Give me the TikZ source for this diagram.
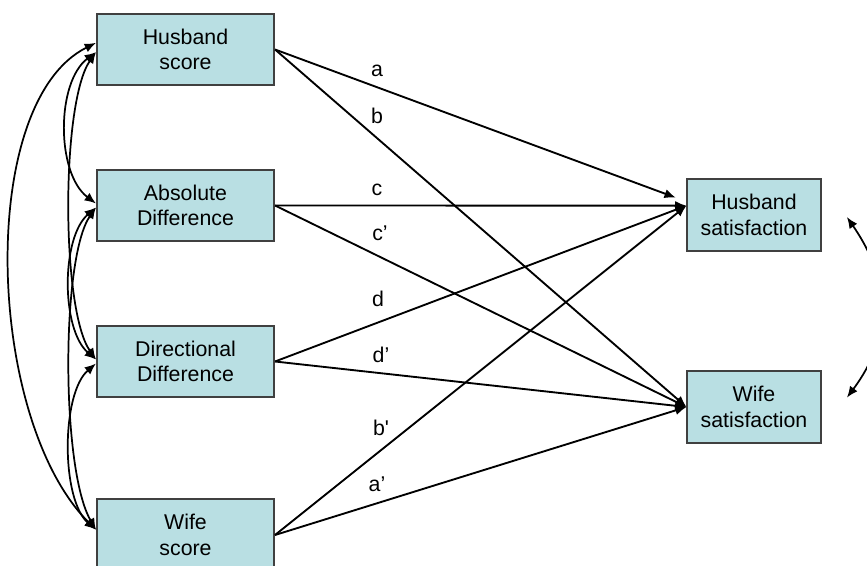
\documentclass[tikz,border=0pt]{standalone}
\usepackage{fontspec}
\setmainfont{Liberation Sans}[Ligatures=TeXOff]
\usepackage{tikz}
\usetikzlibrary{arrows.meta}

\begin{document}
\begin{tikzpicture}[x=0.75pt,y=0.75pt,yscale=-1,xscale=1,
	>={Latex[length=8.5pt,width=7pt]},
	varbox/.style={draw={rgb, 255:red, 64; green, 64; blue, 64}, line width=1.3pt, fill={rgb, 255:red, 185; green, 223; blue, 227}, minimum height=53.5pt, align=center, inner sep=0pt, font=\fontsize{16}{19}\selectfont},
	leftbox/.style={varbox, minimum width=133pt},
	rightbox/.style={varbox, minimum width=100pt},
	link/.style={->, line width=1.4pt},
	covar/.style={<->, line width=1.3pt},
	plab/.style={anchor=base, inner sep=0pt, font=\fontsize{16}{19}\selectfont}]
	\clip (0,0) rectangle (867,566);

	%Shape: Rectangle [id:predictors]
	\node [leftbox] (hscore) at (185.5,49.5) {Husband\\score};
	\node [leftbox] (absdiff) at (185.5,205.5) {Absolute\\Difference};
	\node [leftbox] (dirdiff) at (185.5,361.5) {Directional\\Difference};
	\node [leftbox] (wscore) at (185.5,535) {Wife\\score};
	%Shape: Rectangle [id:outcomes]
	\node [rightbox] (hsat) at (754,215) {Husband\\satisfaction};
	\node [rightbox] (wsat) at (754,407) {Wife\\satisfaction};
	\coordinate (hsatr) at ([xshift=19pt,yshift=1.5pt]hsat.east);
	\coordinate (wsatr) at ([xshift=19pt,yshift=-7pt]wsat.east);

	%Straight Lines [id:paths]
	\draw [link] (hscore.east) -- ([xshift=-8pt,yshift=-13pt]hsat.west);
	\draw [link] (hscore.east) -- (wsat.west);
	\draw [link] (absdiff.east) -- ([yshift=-7pt]hsat.west);
	\draw [link] (absdiff.east) -- (wsat.west);
	\draw [link] (dirdiff.east) -- ([yshift=-7pt]hsat.west);
	\draw [link] (dirdiff.east) -- (wsat.west);
	\draw [link] (wscore.east) -- ([yshift=-7pt]hsat.west);
	\draw [link] (wscore.east) -- (wsat.west);

	%Curve Lines [id:covariances]
	\draw [covar] ([yshift=-5pt]hscore.west) .. controls +(-120,60) and +(-110,-110) .. ([yshift=-4pt]wscore.west);
	\draw [covar] ([yshift=2pt]hscore.west) .. controls +(-40,30) and +(-40,-30) .. ([yshift=-1.5pt]absdiff.west);
	\draw [covar] ([yshift=2pt]hscore.west) .. controls +(-35,50) and +(-35,-50) .. ([yshift=-1.5pt]dirdiff.west);
	\draw [covar] ([yshift=1.5pt]absdiff.west) .. controls +(-35,30) and +(-35,-30) .. ([yshift=-1.5pt]dirdiff.west);
	\draw [covar] ([yshift=1.5pt]absdiff.west) .. controls +(-35,50) and +(-35,-60) .. ([yshift=-4pt]wscore.west);
	\draw [covar] ([yshift=1.5pt]dirdiff.west) .. controls +(-35,30) and +(-35,-30) .. ([yshift=-4pt]wscore.west);
	\draw [covar] (hsatr) .. controls +(45,65) and +(45,-60) .. (wsatr);

	% Text Node
	\node [plab] (la) at (377,77) {a};
	\node [plab] (lb) at (377,124) {b};
	\node [plab] (lc) at (377,196) {c};
	\node [plab] (lc2) at (380,241) {c’};
	\node [plab] (ld) at (378,307) {d};
	\node [plab] (ld2) at (381,363) {d’};
	\node [plab] (lb2) at (381,435) {b'};
	\node [plab] (la2) at (377,491) {a’};

\end{tikzpicture}
\end{document}
